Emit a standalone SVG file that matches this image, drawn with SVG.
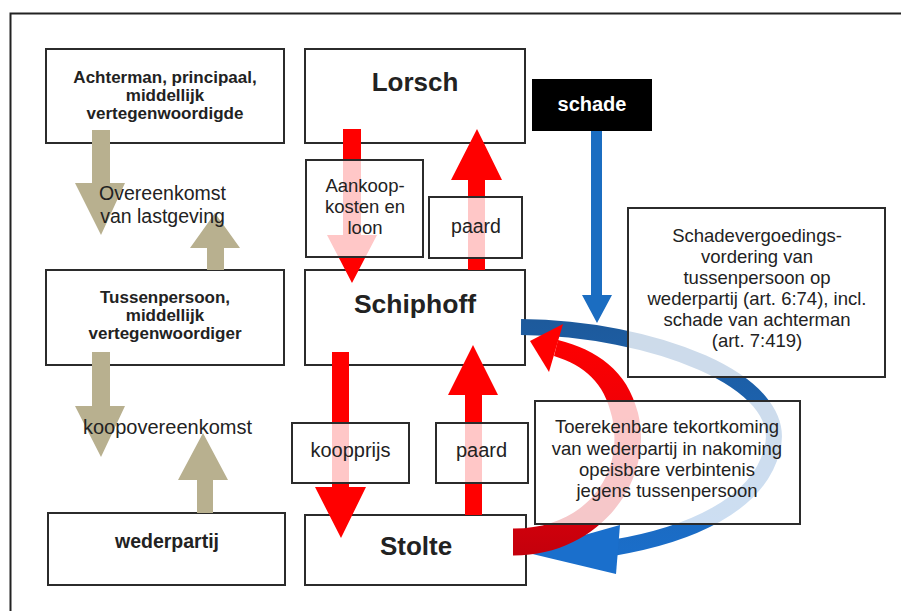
<svg xmlns="http://www.w3.org/2000/svg" width="901" height="611" viewBox="0 0 901 611">
<defs>
<style>
.box{fill:#fff;stroke:#2b2b2b;stroke-width:2}
.lbl{fill:#fff;fill-opacity:0.78;stroke:#2b2b2b;stroke-width:2}
.tan{fill:#b8b08f}
.red{fill:#ff0000}
text{font-family:"Liberation Sans",Arial,sans-serif;fill:#222;text-anchor:middle}
.b{font-weight:bold}
</style>
<linearGradient id="redg" gradientUnits="userSpaceOnUse" x1="0" y1="555" x2="0" y2="330">
<stop offset="0" stop-color="#c4000c"/>
<stop offset="0.45" stop-color="#e8000a"/>
<stop offset="1" stop-color="#ff0000"/>
</linearGradient>
<linearGradient id="blueg" gradientUnits="userSpaceOnUse" x1="0" y1="320" x2="0" y2="570">
<stop offset="0" stop-color="#1d5a9c"/>
<stop offset="1" stop-color="#1a6fcc"/>
</linearGradient>
</defs>
<rect width="901" height="611" fill="#fff"/>
<path d="M10.5,611 V13.5 H901" fill="none" stroke="#222" stroke-width="2"/>

<g id="achterman">
<rect class="box" x="46" y="49" width="238" height="94"/>
<text class="b" font-size="17" x="165" y="83">Achterman, principaal,</text>
<text class="b" font-size="17" x="165" y="101">middellijk</text>
<text class="b" font-size="17" x="165" y="119">vertegenwoordigde</text>
</g>
<g id="tussenpersoon">
<rect class="box" x="46" y="270" width="238" height="95"/>
<text class="b" font-size="17" x="165" y="303">Tussenpersoon,</text>
<text class="b" font-size="17" x="165" y="321">middellijk</text>
<text class="b" font-size="17" x="165" y="339">vertegenwoordiger</text>
</g>
<g id="wederpartij">
<rect class="box" x="48" y="513" width="237" height="72"/>
<text class="b" font-size="19.5" x="167" y="548">wederpartij</text>
</g>
<g id="lorsch">
<rect class="box" x="305" y="49" width="220" height="94"/>
<text class="b" font-size="26" x="415" y="91">Lorsch</text>
</g>
<g id="schiphoff">
<rect class="box" x="305" y="270" width="220" height="95"/>
<text class="b" font-size="26.5" x="415" y="313">Schiphoff</text>
</g>
<g id="stolte">
<rect class="box" x="305" y="515" width="221" height="70"/>
<text class="b" font-size="26" x="416" y="555">Stolte</text>
</g>
<g id="schade">
<rect x="532" y="79" width="120" height="52" fill="#000"/>
<text class="b" font-size="20" x="592" y="111" style="fill:#fff">schade</text>
</g>

<g id="connectors">
<polygon class="tan" points="92,130 110,130 110,183 125,183 101,235 75,183 92,183"/>
<polygon class="tan" points="207,270 224,270 224,248 240,248 215,213 190,248 207,248"/>
<polygon class="tan" points="92,352 110,352 110,406 125,406 101,457 75,406 92,406"/>
<polygon class="tan" points="197,513 213,513 213,480 228,480 203,433 178,480 197,480"/>
<polygon class="red" points="343,129 361,129 361,235 377,235 352,283 327,235 343,235"/>
<polygon class="red" points="468,270 485,270 485,180 502,180 477,129 451,180 468,180"/>
<polygon class="red" points="332,352 349,352 349,487 366,487 341,538 315,487 332,487"/>
<polygon class="red" points="465,515 482,515 482,395 498,395 473,345 448,395 465,395"/>
<polygon points="591,131 602,131 602,295 612,295 597,323 582,295 591,295" fill="#1b6dc1"/>
<path d="M521,327 C650,328 792,380 772,450 C758,505 690,535 612,548" fill="none" stroke="url(#blueg)" stroke-width="16"/>
<polygon points="620,525 616,574 524,552" fill="#1a6fcc"/>
<path d="M513,555.5 C598,556 655,482 638,413 C627,370 597,350 558,340 L554,356 C585,366 604,382 612,417 C625,475 585,529 513,528.5 Z" fill="url(#redg)"/>
<polygon points="563,324 549,372 530,341" fill="#ff0000"/>
<text font-size="19.5" x="162.5" y="200">Overeenkomst</text>
<text font-size="19.5" x="162.5" y="222.5">van lastgeving</text>
<text font-size="20" x="167.5" y="434">koopovereenkomst</text>
</g>

<g id="aankoop">
<rect class="lbl" x="306" y="160" width="117" height="97"/>
<text font-size="18.5" x="365" y="192">Aankoop-</text>
<text font-size="18.5" x="365" y="213">kosten en</text>
<text font-size="18.5" x="365" y="234">loon</text>
</g>
<g id="paard1">
<rect class="lbl" x="429" y="197" width="93" height="61"/>
<text font-size="19.5" x="476" y="233">paard</text>
</g>
<g id="koopprijs">
<rect class="lbl" x="292" y="423" width="117" height="60"/>
<text font-size="20" x="350.5" y="457">koopprijs</text>
</g>
<g id="paard2">
<rect class="lbl" x="436" y="423" width="92" height="60"/>
<text font-size="20" x="481.5" y="457">paard</text>
</g>
<g id="schadevergoeding">
<rect class="lbl" x="628" y="208" width="257" height="169"/>
<text font-size="18.5" x="757" y="242">Schadevergoedings-</text>
<text font-size="18.5" x="757" y="263">vordering van</text>
<text font-size="18.5" x="757" y="284">tussenpersoon op</text>
<text font-size="18.5" x="757" y="305">wederpartij (art. 6:74), incl.</text>
<text font-size="18.5" x="757" y="326">schade van achterman</text>
<text font-size="18.5" x="757" y="347">(art. 7:419)</text>
</g>
<g id="tekortkoming">
<rect class="lbl" x="535" y="401" width="265" height="123"/>
<text font-size="18.5" x="667" y="433">Toerekenbare tekortkoming</text>
<text font-size="18.5" x="667" y="455">van wederpartij in nakoming</text>
<text font-size="18.5" x="667" y="476">opeisbare verbintenis</text>
<text font-size="18.5" x="667" y="497">jegens tussenpersoon</text>
</g>
</svg>
